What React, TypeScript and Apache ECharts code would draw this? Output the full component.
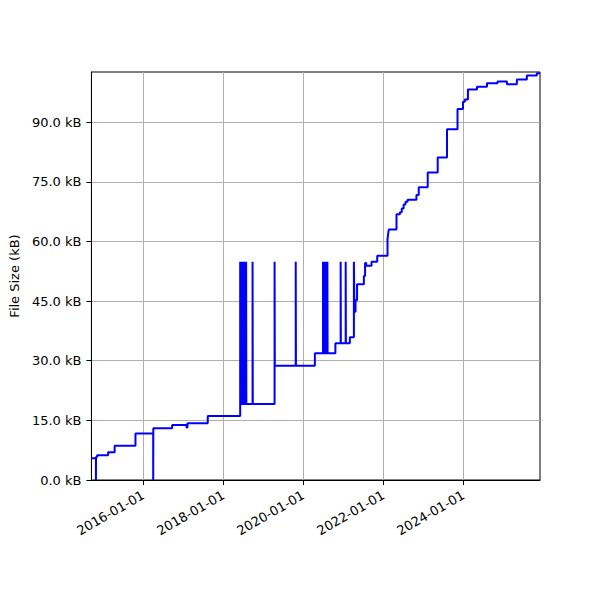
import React, { useEffect, useRef } from "react";
import * as echarts from "echarts";

// commit dates and file size (kB) after each commit, drawn as steps-post
const dates = [
  "2014-09-15", "2014-10-26", "2014-10-27", "2014-11-06", "2015-02-14",
  "2015-04-15", "2015-10-22", "2016-04-01", "2016-04-02", "2016-09-21",
  "2017-01-30", "2017-02-08", "2017-08-12",
  "2018-06-04", "2018-06-06", "2018-06-13", "2018-06-15", "2018-06-22",
  "2018-06-24", "2018-07-01", "2018-07-03", "2018-07-10", "2018-07-12",
  "2018-07-19", "2018-07-21", "2018-07-28", "2018-07-30", "2018-09-25",
  "2018-09-27", "2019-04-14", "2019-04-16", "2019-10-24", "2019-10-26",
  "2020-04-16", "2020-06-29", "2020-07-01", "2020-07-09", "2020-07-11",
  "2020-07-19", "2020-07-21", "2020-07-29", "2020-07-31", "2020-08-08",
  "2020-08-10", "2020-10-20", "2020-12-07", "2020-12-09", "2021-01-22",
  "2021-01-24", "2021-03-01", "2021-04-07", "2021-04-12", "2021-04-22",
  "2021-05-06", "2021-07-07", "2021-07-18", "2021-07-28", "2021-09-15",
  "2021-11-06", "2022-02-08", "2022-02-14", "2022-02-20", "2022-05-01",
  "2022-06-01", "2022-06-18", "2022-07-05", "2022-07-22", "2022-08-10",
  "2022-10-30", "2022-11-20", "2023-02-10", "2023-05-12", "2023-08-05",
  "2023-11-09", "2023-12-29", "2024-01-15", "2024-02-12", "2024-05-05",
  "2024-08-04", "2024-11-08", "2025-02-02", "2025-05-04", "2025-08-03",
  "2025-11-02", "2025-12-01",
];
const sizes = [
  5.5, 0, 5.8, 6.2, 7.0,
  8.6, 11.7, 0, 13.0, 13.8,
  13.2, 14.3, 16.1,
  54.9, 19.1, 54.9, 19.1, 54.9,
  19.1, 54.9, 19.1, 54.9, 19.1,
  54.9, 19.1, 54.9, 19.1, 54.9,
  19.1, 54.9, 28.7, 54.9, 28.7,
  31.9, 54.9, 31.9, 54.9, 31.9,
  54.9, 31.9, 54.9, 31.9, 54.9,
  31.9, 34.4, 54.9, 34.4, 54.9,
  34.4, 35.9, 54.9, 42.3, 45.2,
  49.2, 51.3, 54.6, 53.9, 54.9,
  56.4, 60.5, 62.0, 63.0, 66.8,
  67.3, 68.3, 69.3, 70.0, 70.5,
  71.7, 73.6, 77.3, 81.1, 88.2,
  93.3, 95.1, 95.7, 98.2, 98.9,
  99.8, 100.2, 99.5, 100.7, 101.7,
  102.3, 102.3,
];
const dateTicks = ["2016-01-01", "2018-01-01", "2020-01-01", "2022-01-01", "2024-01-01"];
const sizeTicks = [0, 15, 30, 45, 60, 75, 90];

const toTime = (s: string) => {
  const [y, m, d] = s.split("-").map(Number);
  return Date.UTC(y, m - 1, d);
};
const pad = (n: number) => String(n).padStart(2, "0");

const FileSizeChart = () => {
  const chartRef = useRef<HTMLDivElement>(null);

  useEffect(() => {
    if (!chartRef.current) return;
    const chart = echarts.init(chartRef.current, null, { renderer: "svg" });
    const font = "DejaVu Sans";
    const xTicks = dateTicks.map(toTime);
    const options: echarts.EChartsOption = {
      animation: false,
      backgroundColor: "#fff",
      grid: {
        left: 90,
        right: 60,
        top: 72,
        bottom: 120,
        show: true,
        borderColor: "#000",
        borderWidth: 1,
        backgroundColor: "transparent",
      },
      xAxis: {
        type: "value",
        min: toTime(dates[0]),
        max: toTime(dates[dates.length - 1]),
        axisLine: { onZero: false, lineStyle: { color: "#000", width: 1 } },
        axisTick: { show: true, length: 5, lineStyle: { color: "#000" }, customValues: xTicks },
        axisLabel: {
          customValues: xTicks,
          rotate: 30,
          margin: 14,
          color: "#000",
          fontSize: 13,
          fontFamily: font,
          formatter: (v: number) => {
            const d = new Date(v);
            return `${d.getUTCFullYear()}-${pad(d.getUTCMonth() + 1)}-${pad(d.getUTCDate())}`;
          },
        },
        splitLine: { show: true, lineStyle: { color: "#b0b0b0", width: 1 } },
      },
      yAxis: {
        type: "value",
        min: 0,
        max: 102.6,
        name: "File Size (kB)",
        nameLocation: "middle",
        nameGap: 67,
        nameTextStyle: { color: "#000", fontSize: 13, fontFamily: font },
        axisLine: { show: true, lineStyle: { color: "#000", width: 1 } },
        axisTick: { show: true, length: 5, lineStyle: { color: "#000" }, customValues: sizeTicks },
        axisLabel: {
          customValues: sizeTicks,
          margin: 10,
          color: "#000",
          fontSize: 13,
          fontFamily: font,
          formatter: (v: number) => `${v.toFixed(1)} kB`,
        },
        splitLine: { show: true, lineStyle: { color: "#b0b0b0", width: 1 } },
      },
      series: [
        {
          type: "line",
          step: "end",
          data: dates.map((d, i) => [toTime(d), sizes[i]]),
          showSymbol: false,
          silent: true,
          lineStyle: { color: "#0000ff", width: 2 },
        },
      ],
    };
    chart.setOption(options);
    return () => {
      chart.dispose();
    };
  }, []);

  return (
    <div
      ref={chartRef}
      style={{ position: "absolute", left: 0, top: 0, width: "600px", height: "600px" }}
    />
  );
};

export default function App() {
  return <FileSizeChart />;
}
